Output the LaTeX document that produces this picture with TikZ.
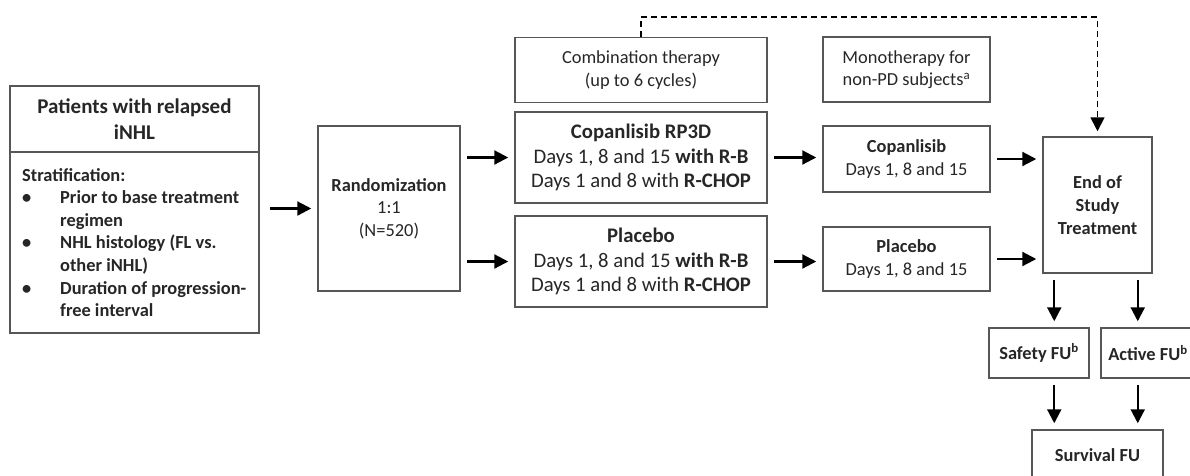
\documentclass[tikz,border=0pt]{standalone}
\usepackage{fontspec}
\setmainfont{Carlito}
\usetikzlibrary{arrows.meta,calc,positioning}
\definecolor{ink}{HTML}{262626}
\definecolor{edge}{HTML}{575757}
\tikzset{
  every node/.style={font=\fontsize{18.4}{22.5}\selectfont,text=ink,inner sep=0pt},
  box/.style={draw=edge,line width=1.5pt,align=center},
  big/.style={font=\fontsize{20.7}{24.5}\selectfont},
  head/.style={font=\bfseries\fontsize{21}{26}\selectfont,align=center},
  flow/.style={-{Triangle[length=14pt,width=14pt]},line width=2.2pt,draw=black,shorten <=6pt,shorten >=6pt},
  back/.style={-{Triangle[length=14pt,width=14pt]},line width=1.7pt,draw=black,dash pattern=on 6pt off 4pt,shorten >=5pt},
}
\newcommand{\bitem}{\makebox[38pt][l]{\textbullet}}
\newcommand{\bgap}{\hspace*{38pt}}

\begin{document}
\begin{tikzpicture}[x=1pt,y=-1pt]
\path[use as bounding box] (0,0) rectangle (1190,475);
% population and stratification
\node[box,minimum width=249pt,minimum height=247pt] (pat) at (134.5,209.5) {};
\coordinate (div) at (0,152);
\draw[edge,line width=1.5pt] (pat.west |- div) -- (pat.east |- div);
\node[head] (pattitle) at (134.5,119) {Patients with relapsed\\iNHL};
\node[font=\bfseries\fontsize{18.4}{22.6}\selectfont,align=left,anchor=north west] (strat) at (22,168)
  {Stratification:\\\bitem Prior to base treatment\\\bgap regimen\\\bitem NHL histology (FL vs.\\\bgap other iNHL)\\\bitem Duration of progression-\\\bgap free interval};
\node[box,minimum width=142pt,minimum height=165pt] (rand) at (389,208.5) {\textbf{Randomization}\\1:1\\(N=520)};
% combination phase
\node[box,minimum width=252pt,minimum height=65pt] (combo) at (641,70) {Combination therapy\\(up to 6 cycles)};
\node[box,big,minimum width=252pt,minimum height=91pt] (copa) at (641,157.5)
  {\textbf{Copanlisib RP3D}\\Days 1, 8 and 15 \textbf{with R-B}\\Days 1 and 8 with \textbf{R-CHOP}};
\node[box,big,minimum width=252pt,minimum height=91pt] (plac) at (641,261.5)
  {\textbf{Placebo}\\Days 1, 8 and 15 \textbf{with R-B}\\Days 1 and 8 with \textbf{R-CHOP}};
% monotherapy phase
\node[box,minimum width=167pt,minimum height=65pt] (mono) at (906.5,69.5) {Monotherapy for\\non-PD subjects\textsuperscript{a}};
\node[box,minimum width=167pt,minimum height=66pt] (copamono) at (906.5,159) {\textbf{Copanlisib}\\Days 1, 8 and 15};
\node[box,minimum width=167pt,minimum height=64pt] (placmono) at (906.5,259) {\textbf{Placebo}\\Days 1, 8 and 15};
% end of treatment and follow-up
\node[box,font=\bfseries\fontsize{18.4}{23}\selectfont,minimum width=109pt,minimum height=136pt] (eos) at (1097.5,205) {End of\\Study\\Treatment};
\node[box,font=\bfseries\fontsize{18.4}{22.5}\selectfont,minimum width=100pt,minimum height=50pt] (safety) at (1039,353) {Safety FU\textsuperscript{b}};
\node[box,font=\bfseries\fontsize{18.4}{22.5}\selectfont,minimum width=94pt,minimum height=50pt] (active) at (1148,353) {Active FU\textsuperscript{b}};
\node[box,font=\bfseries\fontsize{18.4}{22.5}\selectfont,minimum width=131pt,minimum height=50pt] (surv) at (1097.5,455) {Survival FU};
% connectors
\draw[flow,shorten <=10pt] (pat.east |- rand.west) -- (rand.west);
\draw[flow] (rand.east |- copa.west) -- (copa.west);
\draw[flow] (rand.east |- plac.west) -- (plac.west);
\draw[flow] (copa.east) -- (copa.east -| copamono.west);
\draw[flow] (plac.east) -- (plac.east -| placmono.west);
\draw[flow] (copamono.east) -- (copamono.east -| eos.west);
\draw[flow] (placmono.east) -- (placmono.east -| eos.west);
\coordinate (dl) at ([xshift=12pt]eos.south west);
\coordinate (dr) at ([xshift=-15pt]eos.south east);
\draw[flow] (dl) -- (dl |- safety.north);
\draw[flow] (dr) -- (dr |- active.north);
\draw[flow] (dl |- safety.south) -- (dl |- surv.north);
\draw[flow] (dr |- active.south) -- (dr |- surv.north);
\coordinate (ceil) at (0,17);
\draw[back] (combo.north) -- (combo.north |- ceil) -- (eos.north |- ceil) -- (eos.north);
\end{tikzpicture}
\end{document}
